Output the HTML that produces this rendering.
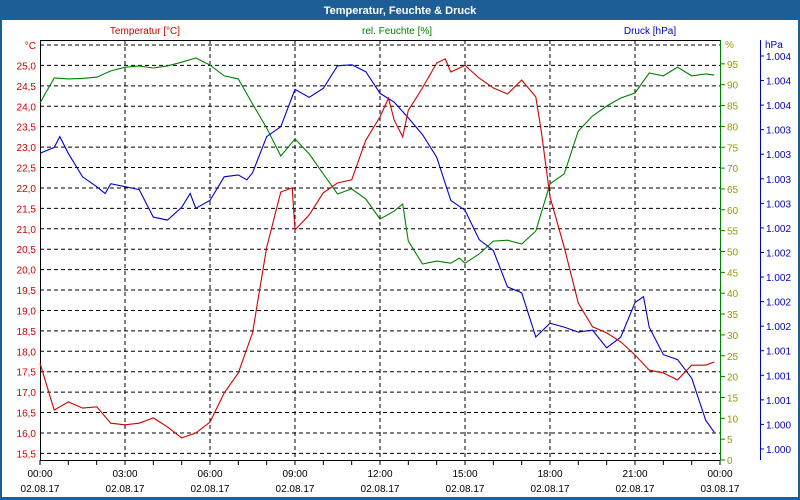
<!DOCTYPE html>
<html><head><meta charset="utf-8"><style>
body{margin:0;background:#fff;}
svg{display:block;font-family:"Liberation Sans",sans-serif;}
</style></head><body>
<svg id="chart" width="800" height="500" viewBox="0 0 800 500">
<rect x="0" y="0" width="800" height="500" fill="#1e5e96"/>
<rect x="2" y="20" width="796" height="477" fill="#ffffff"/>
<text x="400" y="14" text-anchor="middle" fill="#fff" font-size="11" font-weight="bold">Temperatur, Feuchte &amp; Druck</text>
<text x="145" y="34" text-anchor="middle" fill="#d00000" font-size="10">Temperatur [°C]</text>
<text x="397" y="34" text-anchor="middle" fill="#008000" font-size="10">rel. Feuchte [%]</text>
<text x="650" y="34" text-anchor="middle" fill="#0000c0" font-size="10">Druck [hPa]</text>
<g id="grid"></g><g id="axes"></g><g id="series"></g>
</svg>
<script>
const tempTicks=["°C","25,0","24,5","24,0","23,5","23,0","22,5","22,0","21,5","21,0","20,5","20,0","19,5","19,0","18,5","18,0","17,5","17,0","16,5","16,0","15,5"];
const humTicks=[0,5,10,15,20,25,30,35,40,45,50,55,60,65,70,75,80,85,90,95];
const presTickLabels=["1.004","1.004","1.004","1.003","1.003","1.003","1.003","1.002","1.002","1.002","1.002","1.002","1.001","1.001","1.001","1.000","1.000"];
const timeLabels=["00:00","03:00","06:00","09:00","12:00","15:00","18:00","21:00","00:00"];
const dateLabels=["02.08.17","02.08.17","02.08.17","02.08.17","02.08.17","02.08.17","02.08.17","02.08.17","03.08.17"];

const tempHours=[0,0.5,1,1.5,2,2.5,3,3.5,4,4.5,5,5.5,6,6.5,7,7.5,8,8.5,8.9,9,9.5,10,10.5,11,11.5,12,12.3,12.5,12.8,13,13.5,14,14.3,14.5,15,15.5,16,16.5,17,17.5,17.7,18,18.5,19,19.5,20,20.5,21,21.5,22,22.5,23,23.5,23.8];
const tempValues=[17.71,16.56,16.76,16.61,16.64,16.24,16.2,16.24,16.37,16.15,15.88,16.0,16.27,16.98,17.47,18.45,20.55,21.9,22.0,20.97,21.34,21.88,22.12,22.2,23.17,23.74,24.2,23.66,23.25,23.9,24.45,25.06,25.16,24.84,25.0,24.69,24.45,24.3,24.64,24.23,23.35,21.78,20.55,19.18,18.6,18.45,18.23,17.91,17.54,17.47,17.3,17.66,17.66,17.74];

const humHours=[0,0.5,1,1.5,2,2.5,3,3.5,4,4.5,5,5.5,6,6.5,7,7.5,8,8.5,9,9.5,10,10.5,11,11.5,12,12.5,12.8,13,13.5,14,14.5,14.8,15,15.5,16,16.5,17,17.5,18,18.5,19,19.5,20,20.5,21,21.5,22,22.5,23,23.5,23.8];
const humValues=[85.6,91.6,91.4,91.5,91.8,93.3,94.2,94.5,94,94.5,95.4,96.4,94.7,92.1,91.4,85.4,79.6,72.9,77,73.4,68.6,63.8,65,62.6,57.8,59.7,61.4,52.5,47,47.7,47.2,48.4,47.2,49.4,52.5,52.7,51.8,54.9,66.2,68.6,78.9,82.5,84.9,86.8,88,92.8,92.1,94.2,92.1,92.6,92.3];

const presHours=[0,0.5,0.7,1,1.5,2,2.3,2.5,3,3.5,4,4.5,5,5.3,5.5,6,6.5,7,7.3,7.5,8,8.5,9,9.5,10,10.5,11,11.5,12,12.5,13,13.5,14,14.5,15,15.5,16,16.5,17,17.5,18,18.5,19,19.5,20,20.5,21,21.3,21.5,22,22.5,23,23.5,23.8];
const presValues=[1003.21,1003.27,1003.38,1003.21,1002.97,1002.87,1002.8,1002.9,1002.87,1002.84,1002.56,1002.53,1002.66,1002.8,1002.65,1002.73,1002.97,1002.99,1002.94,1003.01,1003.38,1003.48,1003.86,1003.78,1003.87,1004.1,1004.11,1004.04,1003.82,1003.73,1003.57,1003.4,1003.17,1002.73,1002.63,1002.33,1002.22,1001.85,1001.79,1001.34,1001.48,1001.44,1001.39,1001.41,1001.23,1001.34,1001.69,1001.75,1001.44,1001.16,1001.11,1000.92,1000.49,1000.37];

const NS="http://www.w3.org/2000/svg";
const xS=h=>40+h*(680/24);
const yT=t=>45+(25.5-t)*40.84;
const yH=v=>460-v*4.17;
const yP=p=>56+(1004.2-p)/0.25*24.56;
function mk(tag,attrs,parent,txt){const e=document.createElementNS(NS,tag);for(const k in attrs)e.setAttribute(k,attrs[k]);if(txt!==undefined)e.textContent=txt;parent.appendChild(e);return e;}
const grid=document.getElementById('grid'),axes=document.getElementById('axes'),ser=document.getElementById('series');

tempTicks.forEach((lab,i)=>{const y=45+i*20.42;
 const l=mk('line',{x1:40,x2:720,y1:y,y2:y,stroke:'#000','stroke-dasharray':'4,3','stroke-width':1},grid);
 
 
 const t=mk('text',{x:36,y:y+4,'text-anchor':'end',fill:'#d00000','font-size':10},axes,lab);
 
 
});
for(let i=1;i<8;i++){const x=40+i*85;
 const l=mk('line',{x1:x,x2:x,y1:40,y2:460,stroke:'#000','stroke-dasharray':'4,3'},grid);
 
 }
mk('line',{x1:40,x2:720,y1:40.5,y2:40.5,stroke:'#000'},axes);
mk('line',{x1:40.5,x2:40.5,y1:40,y2:460,stroke:'#000'},axes);
const xa=mk('line',{x1:40,x2:720,y1:460.5,y2:460.5,stroke:'#000'},axes);


for(let h=0;h<=24;h++){mk('line',{x1:xS(h),x2:xS(h),y1:460,y2:465,stroke:'#000'},axes);}
timeLabels.forEach((lab,i)=>{const x=xS(i*3);
 const t=mk('text',{x:x,y:477,'text-anchor':'middle',fill:'#000','font-size':10},axes,lab);
 
 
 const d=mk('text',{x:x,y:492,'text-anchor':'middle',fill:'#000','font-size':10},axes,dateLabels[i]);
 
 });
const ha=mk('line',{x1:720.5,x2:720.5,y1:40,y2:460,stroke:'#008000'},axes);


humTicks.forEach(v=>{const y=yH(v);mk('line',{x1:720,x2:725,y1:y,y2:y,stroke:'#008000'},axes);
 const t=mk('text',{x:727,y:y+4,fill:'#9a9a00','font-size':10},axes,String(v));
 
 });
const hu=mk('text',{x:725,y:48,fill:'#9a9a00','font-size':10},axes,'%');


const pa=mk('line',{x1:760.5,x2:760.5,y1:40,y2:460,stroke:'#0000c0'},axes);


presTickLabels.forEach((lab,i)=>{const y=56+i*24.56;mk('line',{x1:760,x2:764,y1:y,y2:y,stroke:'#0000c0'},axes);
 const t=mk('text',{x:766,y:y+4,fill:'#0000c0','font-size':10},axes,lab);
 
 });
const pu=mk('text',{x:765,y:48,fill:'#0000c0','font-size':10},axes,'hPa');


function line(hours,vals,yf,color,name){
 const d=hours.map((h,i)=>(i?'L':'M')+xS(h).toFixed(1)+','+yf(vals[i]).toFixed(1)).join('');
 const p=mk('path',{d:d,fill:'none',stroke:color,'stroke-width':1.1},ser);
 
 }
line(humHours,humValues,yH,'#008000','humidity-line');
line(presHours,presValues,yP,'#0000d0','pressure-line');
line(tempHours,tempValues,yT,'#d00000','temperature-line');
</script>
</body></html>
